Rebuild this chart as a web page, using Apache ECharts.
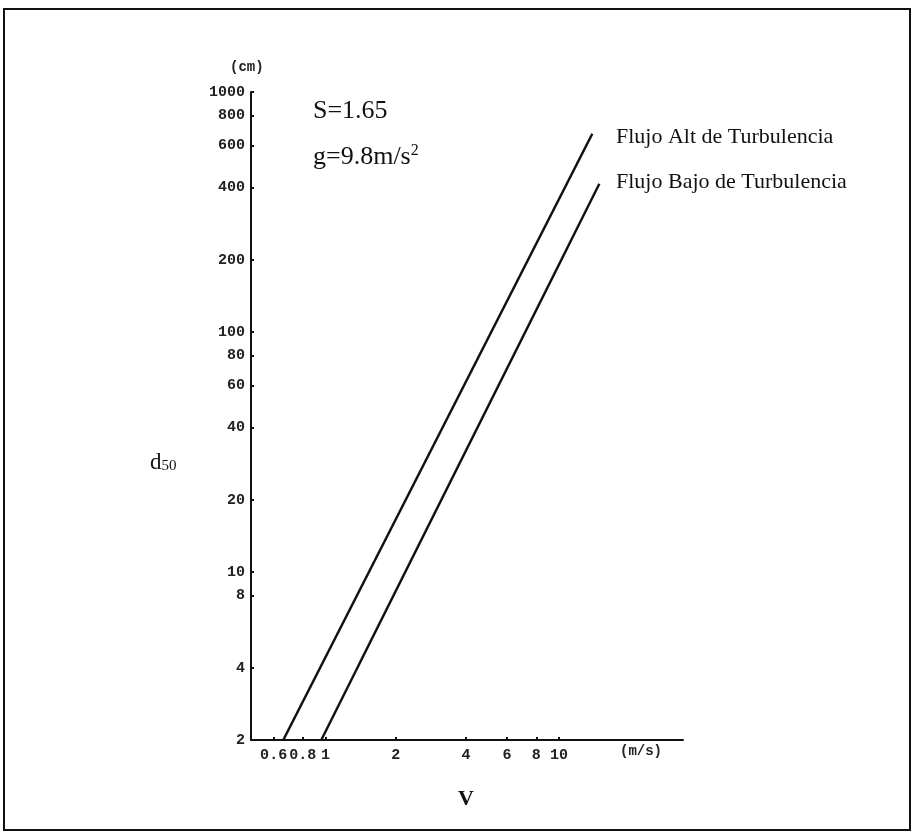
<!DOCTYPE html>
<html>
<head>
<meta charset="utf-8">
<script src="https://cdn.jsdelivr.net/npm/echarts@6/dist/echarts.min.js"></script>
<style>
  html, body { margin: 0; padding: 0; background: #fff; }
  #chart { width: 914px; height: 834px; }
</style>
</head>
<body>
<div id="chart"></div>
<script>
// velocidad (m/s) y d50 (cm) en los extremos de cada recta
var velAlt = [0.66, 13.9]
var d50Alt = [2, 670]
var velBajo = [0.96, 14.9]
var d50Bajo = [2, 415]

var xTicks = [0.6, 0.8, 1, 2, 4, 6, 8, 10]
var yTicks = [2, 4, 8, 10, 20, 40, 60, 80, 100, 200, 400, 600, 800, 1000]

function pairs(xs, ys) {
  var out = []
  for (var i = 0; i < xs.length; i++) out.push([xs[i], ys[i]])
  return out
}

var tickFont = { fontFamily: 'Liberation Mono', fontWeight: 'bold', fontSize: 15, color: '#222' }
var serif = 'Liberation Serif'

var chart = echarts.init(document.getElementById('chart'))
chart.setOption({
  animation: false,
  grid: { left: 251, top: 92, right: 231, bottom: 94 },
  xAxis: {
    type: 'log',
    min: 0.48,
    max: 34,
    splitLine: { show: false },
    axisLine: { lineStyle: { color: '#111', width: 2 } },
    axisTick: { inside: true, length: 3, customValues: xTicks, lineStyle: { color: '#111', width: 2 } },
    axisLabel: Object.assign({ customValues: xTicks, margin: 8, formatter: function (v) { return String(v) } }, tickFont),
    minorTick: { show: false }
  },
  yAxis: {
    type: 'log',
    min: 2,
    max: 1000,
    splitLine: { show: false },
    axisLine: { lineStyle: { color: '#111', width: 2 } },
    axisTick: { inside: true, length: 3, customValues: yTicks, lineStyle: { color: '#111', width: 2 } },
    axisLabel: Object.assign({ customValues: yTicks, margin: 6, formatter: function (v) { return String(v) } }, tickFont)
  },
  series: [
    {
      name: 'Flujo Alt de Turbulencia',
      type: 'line',
      data: pairs(velAlt, d50Alt),
      symbol: 'none',
      lineStyle: { color: '#111', width: 2.5 }
    },
    {
      name: 'Flujo Bajo de Turbulencia',
      type: 'line',
      data: pairs(velBajo, d50Bajo),
      symbol: 'none',
      lineStyle: { color: '#111', width: 2.5 }
    }
  ],
  graphic: [
    { type: 'rect', shape: { x: 4, y: 9, width: 906, height: 821 },
      style: { fill: 'none', stroke: '#111', lineWidth: 2 } },
    { type: 'text', left: 230, top: 60,
      style: { text: '(cm)', font: 'bold 14px Liberation Mono', fill: '#222' } },
    { type: 'text', left: 620, top: 744,
      style: { text: '(m/s)', font: 'bold 14px Liberation Mono', fill: '#222' } },
    { type: 'text', left: 313, top: 98,
      style: { text: 'S=1.65', font: '26px ' + serif, fill: '#111' } },
    { type: 'text', left: 313, top: 143,
      style: {
        text: '{a|g=9.8m/s}{b|2}',
        rich: {
          a: { fontFamily: serif, fontSize: 26, fill: '#111' },
          b: { fontFamily: serif, fontSize: 16, fill: '#111', verticalAlign: 'top', padding: [0, 0, 12, 0] }
        }
      } },
    { type: 'text', left: 616, top: 126,
      style: { text: 'Flujo Alt de Turbulencia', font: '22px ' + serif, fill: '#111' } },
    { type: 'text', left: 616, top: 171,
      style: { text: 'Flujo Bajo de Turbulencia', font: '22px ' + serif, fill: '#111' } },
    { type: 'text', left: 150, top: 451,
      style: {
        text: '{a|d}{b|50}',
        rich: {
          a: { fontFamily: serif, fontSize: 23, fill: '#111' },
          b: { fontFamily: serif, fontSize: 15, fill: '#111', padding: [8, 0, 0, 0] }
        }
      } },
    { type: 'text', left: 458, top: 788,
      style: { text: 'V', font: 'bold 22px ' + serif, fill: '#111' } }
  ]
})
</script>
</body>
</html>
